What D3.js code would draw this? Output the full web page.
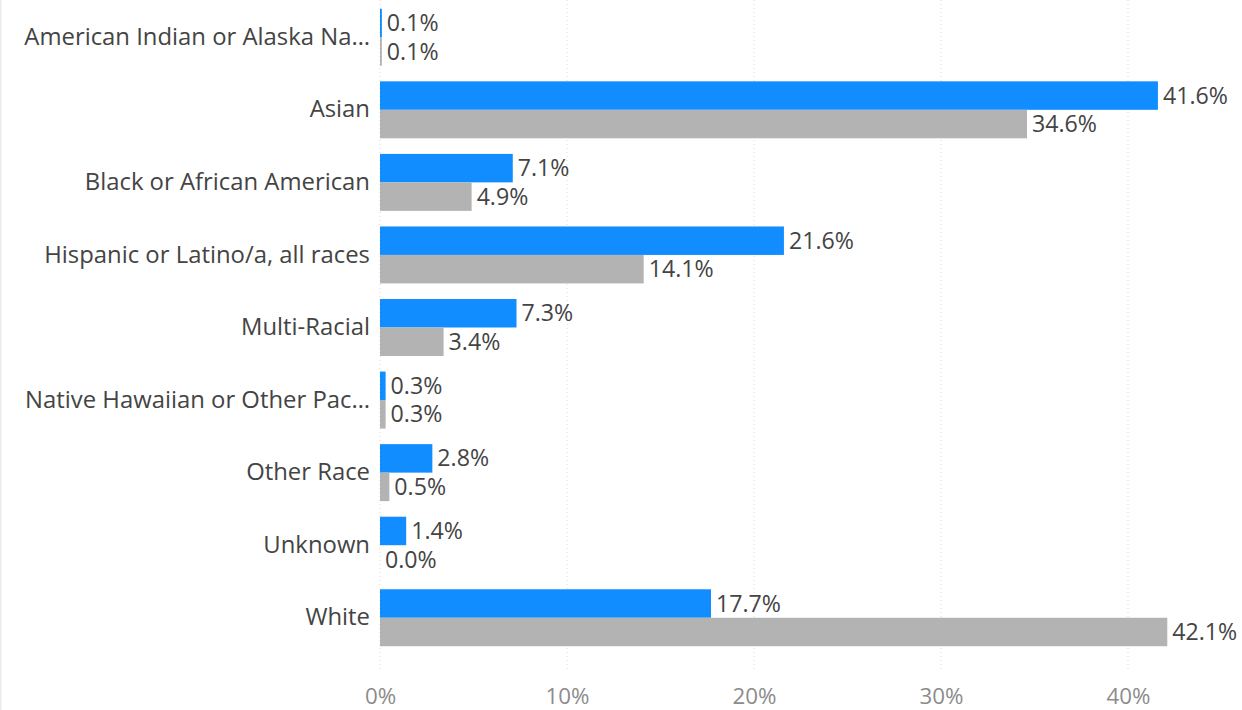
<!DOCTYPE html>
<html><head><meta charset="utf-8">
<script src="https://cdn.jsdelivr.net/npm/d3@7"></script>
<style>
body{margin:0;background:#fff;}
svg{display:block;}
svg text{font-family:"Segoe UI","Open Sans","Noto Sans",sans-serif;}
</style></head><body>
<svg id="c" width="1242" height="710"></svg>
<script>
const categories = ["American Indian or Alaska Na…","Asian","Black or African American","Hispanic or Latino/a, all races","Multi-Racial","Native Hawaiian or Other Pac…","Other Race","Unknown","White"];
const seriesA = [0.1,41.6,7.1,21.6,7.3,0.3,2.8,1.4,17.7];
const seriesB = [0.1,34.6,4.9,14.1,3.4,0.3,0.5,0.0,42.1];
const ticks = [0,10,20,30,40];
const colors = ["#118DFF","#B3B3B3"];

const svg = d3.select("#c");
svg.append("rect").attr("x",0).attr("y",0).attr("width",1.5).attr("height",710).attr("fill","#ececec");

// measure font to match reference text widths
function fitSize(str, target){
  const t = svg.append("text").attr("font-size",20).text(str);
  const w = t.node().getComputedTextLength();
  t.remove();
  return 20*target/w;
}
const catSize = fitSize("Hispanic or Latino/a, all races", 326);
const valSize = fitSize("41.6%", 65);
const tickSize = fitSize("40%", 44);

const x = d3.scaleLinear().domain([0,40]).range([380,1128]);
const y = d3.scaleBand().domain(categories).range([1,654]).paddingInner(0.215).paddingOuter(0.107);
const sub = d3.scaleBand().domain([0,1]).range([0,y.bandwidth()]);

// gridlines
svg.append("g").selectAll("line").data(ticks).join("line")
  .attr("x1",d=>x(d)).attr("x2",d=>x(d)).attr("y1",0).attr("y2",670)
  .attr("stroke","#d9d9d9").attr("stroke-width",1).attr("stroke-dasharray","1,3");

// x axis tick labels
const ax = d3.axisBottom(x).tickValues(ticks).tickFormat(d=>d+"%").tickSize(0);
const g = svg.append("g").attr("transform","translate(0,696)").call(ax).attr("font-family",null);
g.select(".domain").remove();
g.selectAll("text").attr("y",0).attr("dy","0.36em").attr("font-size",tickSize).attr("fill","#8c8c8c");

// category labels
const ay = d3.axisLeft(y).tickSize(0).tickPadding(0);
const gy = svg.append("g").attr("transform","translate(370,0)").call(ay).attr("font-family",null);
gy.select(".domain").remove();
gy.selectAll("text").attr("font-size",catSize).attr("fill","#444");

const series = [seriesA, seriesB];
series.forEach((s,si)=>{
  const gg = svg.append("g");
  gg.selectAll("rect").data(s).join("rect")
    .attr("x",x(0)).attr("y",(d,i)=>y(categories[i])+sub(si))
    .attr("width",d=>x(d)-x(0)).attr("height",sub.bandwidth())
    .attr("fill",colors[si]);
  gg.selectAll("text").data(s).join("text")
    .attr("x",d=>x(d)+5).attr("y",(d,i)=>y(categories[i])+sub(si)+sub.bandwidth()/2)
    .attr("dy","0.35em").attr("font-size",valSize).attr("fill","#444")
    .text(d=>d.toFixed(1)+"%");
});
</script></body></html>
